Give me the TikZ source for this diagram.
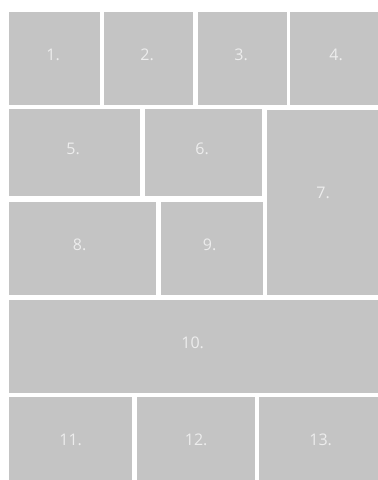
\documentclass[tikz,border=0pt]{standalone}
\usepackage{fontspec}
\setmainfont{Open Sans}
\definecolor{tilegray}{HTML}{C4C4C4}
\definecolor{labelgray}{HTML}{EDEDED}

\tikzset{tile/.style={fill=tilegray,draw=none,inner sep=0pt,anchor=north west,
  text=labelgray,font=\fontsize{16}{16}\selectfont,text depth=8pt}}

\begin{document}
\begin{tikzpicture}[x=1pt,y=-1pt]
\useasboundingbox (0,0) rectangle (378,480);
\clip (0,0) rectangle (378,480);
\node[tile,minimum width=91pt,minimum height=93pt] (t1) at (9,12){1.\kern3pt};
\node[tile,minimum width=89pt,minimum height=93pt] (t2) at (104,12){2.\kern3pt};
\node[tile,minimum width=89pt,minimum height=93pt] (t3) at (198,12){3.\kern3pt};
\node[tile,minimum width=92pt,minimum height=93pt] (t4) at (290,12){4.};
\node[tile,minimum width=131pt,minimum height=87pt] (t5) at (9,109){5.\kern3pt};
\node[tile,minimum width=117pt,minimum height=87pt] (t6) at (145,109){6.\kern3pt};
\node[tile,minimum width=115pt,minimum height=185pt,text depth=20pt] (t7) at (267,110){7.\kern3pt};
\node[tile,minimum width=147pt,minimum height=93pt] (t8) at (9,202){8.\kern6pt};
\node[tile,minimum width=102pt,minimum height=93pt] (t9) at (161,202){9.\kern5pt};
\node[tile,minimum width=373pt,minimum height=93pt] (t10) at (9,300){10.\kern6pt};
\node[tile,minimum width=123pt,minimum height=93pt] (t11) at (9,397){11.};
\node[tile,minimum width=118pt,minimum height=93pt] (t12) at (137,397){12.};
\node[tile,minimum width=123pt,minimum height=93pt] (t13) at (259,397){13.};
\end{tikzpicture}
\end{document}
